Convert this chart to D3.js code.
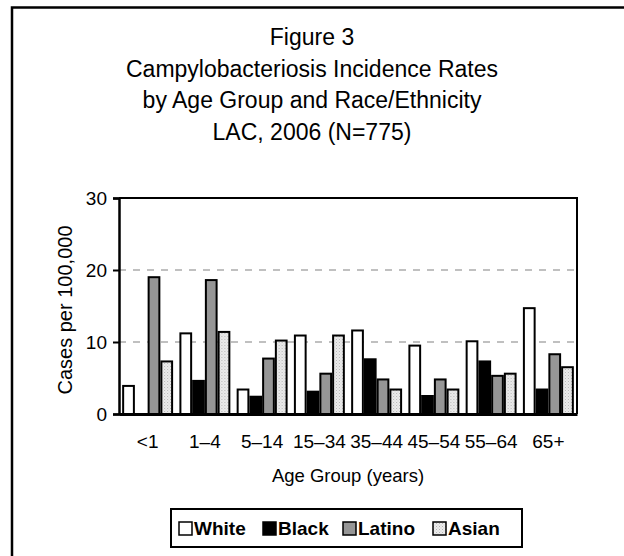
<!DOCTYPE html>
<html>
<head>
  <meta charset="utf-8">
  <title>Figure 3</title>
  <script src="https://d3js.org/d3.v7.min.js"></script>
  <style type="text/css">
    body { margin: 0; background: #fff; }
    svg { font-family: Arial, "Liberation Sans", sans-serif; }
  </style>
</head>
<body>
<div id="chart"></div>
<script type="text/javascript">
  // data
  var ageGroups = ["<1", "1\u20134", "5\u201314", "15\u201334", "35\u201344", "45\u201354", "55\u201364", "65+"];
  var races = ["White", "Black", "Latino", "Asian"];
  var white  = [3.9, 11.2, 3.4, 10.9, 11.6, 9.5, 10.1, 14.7];
  var black  = [0.0, 4.6, 2.4, 3.1, 7.6, 2.5, 7.3, 3.4];
  var latino = [19.0, 18.6, 7.7, 5.6, 4.8, 4.8, 5.3, 8.3];
  var asian  = [7.3, 11.4, 10.2, 10.9, 3.4, 3.4, 5.6, 6.5];
  var yTicks = [0, 10, 20, 30];
  var titleLines = ["Figure 3", "Campylobacteriosis Incidence Rates", "by Age Group and Race/Ethnicity", "LAC, 2006 (N=775)"];

  var seriesVals = { White: white, Black: black, Latino: latino, Asian: asian };
  var fills = { White: "#ffffff", Black: "#000000", Latino: "#969696", Asian: "url(#dots)" };

  var W = 624, H = 556;
  var plot = { left: 119, right: 577, top: 198, bottom: 414 };
  var FONT = "Arial, 'Liberation Sans', sans-serif";

  var svg = d3.select("#chart").append("svg")
    .attr("width", W)
    .attr("height", H);

  // dotted fill for Asian
  var pat = svg.append("defs").append("pattern")
    .attr("id", "dots")
    .attr("patternUnits", "userSpaceOnUse")
    .attr("width", 3).attr("height", 3);
  pat.append("rect").attr("width", 3).attr("height", 3).attr("fill", "#ececec");
  pat.append("rect").attr("x", 0).attr("y", 0).attr("width", 1).attr("height", 1).attr("fill", "#b4b4b4");
  pat.append("rect").attr("x", 1.5).attr("y", 1.5).attr("width", 1).attr("height", 1).attr("fill", "#c8c8c8");

  // outer frame (runs off the right and bottom)
  svg.append("rect")
    .attr("x", 12).attr("y", 7.5)
    .attr("width", 700).attr("height", 700)
    .attr("fill", "none")
    .attr("stroke", "#000")
    .attr("stroke-width", 2.5);

  // title
  svg.append("g").selectAll("text")
    .data(titleLines)
    .enter().append("text")
    .attr("x", 312)
    .attr("y", function (d, i) { return 45 + i * 31.5; })
    .attr("text-anchor", "middle")
    .attr("font-size", 23)
    .attr("fill", "#000")
    .text(function (d) { return d; });

  var x0 = d3.scaleBand()
    .domain(ageGroups)
    .range([plot.left, plot.right])
    .paddingInner(0.11)
    .paddingOuter(0.055);

  var x1 = d3.scaleBand()
    .domain(races)
    .range([0, x0.bandwidth()]);

  var y = d3.scaleLinear()
    .domain([0, 30])
    .range([plot.bottom, plot.top]);

  // gridlines
  svg.append("g").selectAll("line")
    .data(yTicks.filter(function (t) { return t > 0 && t < 30; }))
    .enter().append("line")
    .attr("x1", plot.left).attr("x2", plot.right)
    .attr("y1", function (d) { return y(d); })
    .attr("y2", function (d) { return y(d); })
    .attr("stroke", "#c0c0c0")
    .attr("stroke-width", 2)
    .attr("stroke-dasharray", "7,7");

  // top and right border of plot
  svg.append("path")
    .attr("d", "M" + plot.left + "," + y(30) + "H" + plot.right + "V" + plot.bottom)
    .attr("fill", "none")
    .attr("stroke", "#000")
    .attr("stroke-width", 2);

  // bars
  var groups = svg.append("g").selectAll("g")
    .data(ageGroups)
    .enter().append("g")
    .attr("transform", function (d) { return "translate(" + x0(d) + ",0)"; });

  groups.selectAll("rect")
    .data(function (d, i) {
      return races.map(function (r) { return { race: r, value: seriesVals[r][i] }; });
    })
    .enter().append("rect")
    .filter(function (d) { return d.value > 0; })
    .attr("x", function (d) { return x1(d.race) + 1; })
    .attr("width", x1.bandwidth() - 2)
    .attr("y", function (d) { return y(d.value); })
    .attr("height", function (d) { return y(0) - y(d.value); })
    .attr("fill", function (d) { return fills[d.race]; })
    .attr("stroke", "#000")
    .attr("stroke-width", 2);

  // y axis
  var yAxis = svg.append("g")
    .attr("transform", "translate(" + plot.left + ",0)")
    .call(d3.axisLeft(y).tickValues(yTicks).tickSize(6).tickPadding(6));
  yAxis.select(".domain").attr("stroke-width", 2.5);
  yAxis.selectAll(".tick line").attr("stroke-width", 2);
  yAxis.selectAll("text")
    .style("font-size", "19px")
    .style("font-family", FONT)
    .attr("fill", "#000");

  // x axis
  var xAxis = svg.append("g")
    .attr("transform", "translate(0," + plot.bottom + ")")
    .call(d3.axisBottom(x0).tickSize(0).tickPadding(21));
  xAxis.select(".domain").attr("stroke-width", 3);
  xAxis.selectAll("text")
    .style("font-size", "19px")
    .style("font-family", FONT)
    .attr("fill", "#000");

  // axis titles
  svg.append("text")
    .attr("transform", "translate(72,310) rotate(-90)")
    .attr("text-anchor", "middle")
    .attr("font-size", 20)
    .text("Cases per 100,000");

  svg.append("text")
    .attr("x", (plot.left + plot.right) / 2)
    .attr("y", 482)
    .attr("text-anchor", "middle")
    .attr("font-size", 18.5)
    .text("Age Group (years)");

  // legend
  var legend = svg.append("g");
  legend.append("rect")
    .attr("x", 171).attr("y", 509)
    .attr("width", 351).attr("height", 38)
    .attr("fill", "#fff")
    .attr("stroke", "#000")
    .attr("stroke-width", 2);

  var legX = [179, 263, 343, 433];
  var items = legend.selectAll("g.item")
    .data(races)
    .enter().append("g")
    .attr("class", "item")
    .attr("transform", function (d, i) { return "translate(" + legX[i] + ",535)"; });
  items.append("rect")
    .attr("y", -13)
    .attr("width", 13).attr("height", 13)
    .attr("fill", function (d) { return fills[d]; })
    .attr("stroke", "#000")
    .attr("stroke-width", 1.5);
  items.append("text")
    .attr("x", 15)
    .attr("y", 0)
    .attr("font-size", 19)
    .attr("font-weight", "bold")
    .text(function (d) { return d; });
</script>
</body>
</html>
